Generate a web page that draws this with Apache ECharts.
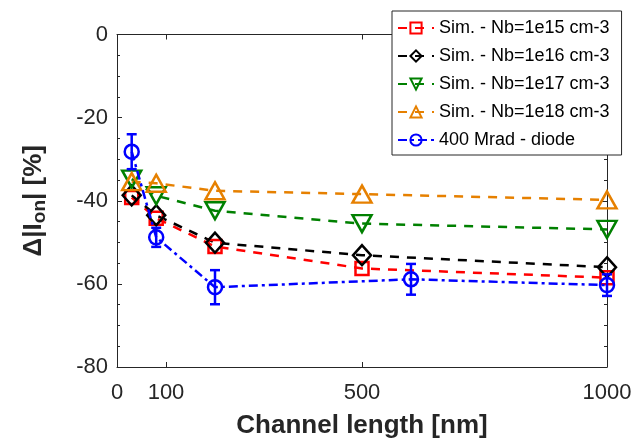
<!DOCTYPE html>
<html>
<head>
<meta charset="utf-8">
<script src="https://cdn.jsdelivr.net/npm/echarts@6.0.0/dist/echarts.min.js"></script>
</head>
<body style="margin:0">
<div id="chart" style="width:644px;height:438px"></div>
<script>
// channel lengths [nm] and measured / simulated values [%]
var xSim = [30, 80, 200, 500, 1000];
var nb15 = [-39.2, -44.2, -51.0, -56.3, -58.5];
var nb16 = [-38.7, -43.5, -50.1, -53.1, -56.0];
var nb17 = [-34.8, -38.8, -42.4, -45.5, -46.9];
var nb18 = [-35.4, -35.8, -37.6, -38.4, -39.8];
var xDiode = [30, 80, 200, 600, 1000];
var diode = [-28.2, -48.8, -60.8, -58.9, -60.3];
var diodeErr = [4.2, 2.3, 4.1, 3.7, 2.6];
var xTicks = [0, 100, 500, 1000];

function pairs(xs, ys) {
    return xs.map(function (x, i) { return [x, ys[i]]; });
}

function simSeries(name, color, symbol, size, ys, rotate) {
    return {
        name: name,
        type: 'line',
        data: pairs(xSim, ys),
        symbol: symbol,
        symbolSize: size,
        symbolRotate: rotate || 0,
        itemStyle: { color: 'rgba(255,255,255,0)', borderColor: color, borderWidth: 2.5 },
        lineStyle: { color: color, width: 2.5, type: [9, 8] },
        z: 3
    };
}

function axisLine() {
    return { show: true, onZero: false, lineStyle: { color: '#262626', width: 1 } };
}
var tickIn = { show: true, inside: true, length: 5, lineStyle: { color: '#262626' } };
var minorIn = { show: true, splitNumber: 4, length: 3, lineStyle: { color: '#262626' } };
var font = 'Liberation Sans, Arial, sans-serif';

var chart = echarts.init(document.getElementById('chart'));
var option = {
    animation: false,
    textStyle: { fontFamily: font },
    grid: { left: 117, right: 37, top: 34.5, bottom: 71, containLabel: false, outerBoundsMode: 'none' },
    legend: {
        left: 392, top: 11, orient: 'vertical',
        padding: [8, 12, 6, 5],
        itemWidth: 36, itemHeight: 14, itemGap: 10,
        backgroundColor: '#fff', borderColor: '#262626', borderWidth: 1,
        textStyle: { fontSize: 18, color: '#000' },
        data: ['Sim. - Nb=1e15 cm-3', 'Sim. - Nb=1e16 cm-3', 'Sim. - Nb=1e17 cm-3',
               'Sim. - Nb=1e18 cm-3', '400 Mrad - diode']
    },
    xAxis: [{
        type: 'value', min: 0, max: 1000, position: 'bottom',
        name: 'Channel length [nm]', nameLocation: 'middle', nameGap: 46,
        nameTextStyle: { fontSize: 26, fontWeight: 'bold', color: '#262626' },
        axisLine: axisLine(), splitLine: { show: false },
        axisTick: Object.assign({ customValues: xTicks }, tickIn),
        axisLabel: { customValues: xTicks, fontSize: 22, color: '#262626', margin: 15,
                     formatter: function (v) { return String(v); } }
    }, {
        type: 'value', min: 0, max: 1000, position: 'top',
        axisLine: axisLine(), splitLine: { show: false },
        axisTick: Object.assign({ customValues: xTicks }, tickIn),
        axisLabel: { show: false }
    }],
    yAxis: [{
        type: 'value', min: -80, max: 0, interval: 20, position: 'left',
        name: '{b|Δ|I}{s|on}{b|| [%]}', nameLocation: 'middle', nameGap: 68,
        nameTextStyle: {
            rich: {
                b: { fontSize: 26, fontWeight: 'bold', color: '#262626' },
                s: { fontSize: 19, fontWeight: 'bold', color: '#262626', verticalAlign: 'bottom', padding: [12, 0, 0, 0] }
            }
        },
        axisLine: axisLine(), splitLine: { show: false },
        axisTick: tickIn, minorTick: minorIn,
        axisLabel: { fontSize: 22, color: '#262626', margin: 9 }
    }, {
        type: 'value', min: -80, max: 0, interval: 20, position: 'right',
        axisLine: axisLine(), splitLine: { show: false },
        axisTick: tickIn, minorTick: minorIn,
        axisLabel: { show: false }
    }],
    series: [
        simSeries('Sim. - Nb=1e15 cm-3', '#ff0000', 'rect', 13, nb15),
        simSeries('Sim. - Nb=1e16 cm-3', '#000000', 'diamond', [18, 20], nb16),
        simSeries('Sim. - Nb=1e17 cm-3', '#008000', 'triangle', [19, 17], nb17, 180),
        simSeries('Sim. - Nb=1e18 cm-3', '#e68000', 'triangle', [19, 17], nb18),
        {
            name: '400 Mrad - diode',
            type: 'line',
            data: pairs(xDiode, diode),
            symbol: 'circle', symbolSize: 14,
            itemStyle: { color: 'rgba(255,255,255,0)', borderColor: '#0000ff', borderWidth: 2.5 },
            lineStyle: { color: '#0000ff', width: 2.5, type: [9, 4, 3, 4] },
            z: 4
        },
        {
            name: 'diodeErr',
            type: 'custom',
            data: xDiode.map(function (x, i) { return [x, diode[i] - diodeErr[i], diode[i] + diodeErr[i]]; }),
            renderItem: function (params, api) {
                var lo = api.coord([api.value(0), api.value(1)]);
                var hi = api.coord([api.value(0), api.value(2)]);
                var w = 5;
                var st = { stroke: '#0000ff', lineWidth: 2.5 };
                return {
                    type: 'group',
                    children: [
                        { type: 'line', shape: { x1: lo[0], y1: lo[1], x2: hi[0], y2: hi[1] }, style: st },
                        { type: 'line', shape: { x1: lo[0] - w, y1: lo[1], x2: lo[0] + w, y2: lo[1] }, style: st },
                        { type: 'line', shape: { x1: hi[0] - w, y1: hi[1], x2: hi[0] + w, y2: hi[1] }, style: st }
                    ]
                };
            },
            z: 4
        }
    ]
};
chart.setOption(option);
</script>
</body>
</html>
